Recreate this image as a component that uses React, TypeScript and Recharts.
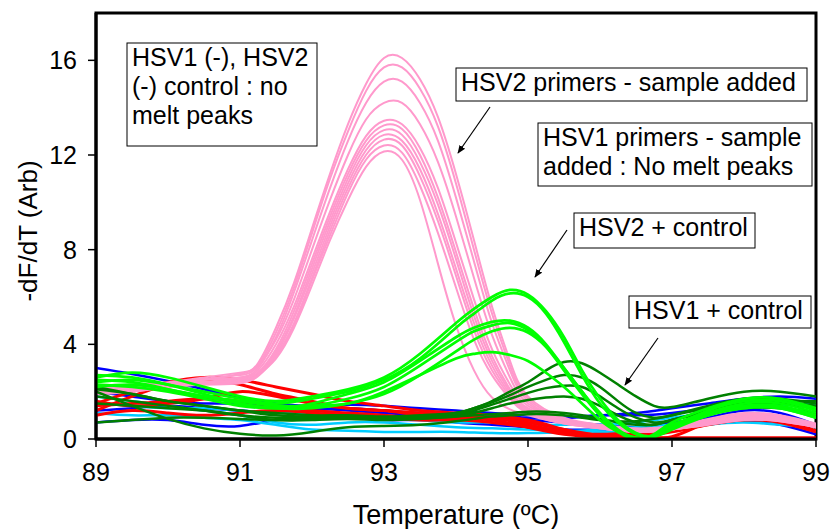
import React from 'react';
import { LineChart, Line, XAxis, YAxis, ReferenceArea } from 'recharts';

// temperature grids (ºC) for each family of curves
const PINK_T = [89, 89.5, 90, 90.5, 91, 91.25, 91.5, 91.75, 92, 92.25, 92.5, 92.75, 93, 93.25, 93.5, 93.75, 94, 94.25, 94.5, 94.75, 95, 95.5, 96, 96.5, 97, 97.5, 98, 98.5, 99];
const GREEN_T = [89, 89.5, 90, 90.5, 91, 91.5, 92, 92.5, 93, 93.5, 94, 94.25, 94.5, 94.75, 95, 95.25, 95.5, 95.75, 96, 96.25, 96.5, 96.75, 97, 97.5, 98, 98.5, 99];
const BASE_T = [89, 89.5, 90, 90.5, 91, 91.5, 92, 92.5, 93, 93.5, 94, 94.5, 95, 95.5, 96, 96.5, 97, 97.5, 98, 98.5, 99];

// HSV2 primers - sample added
const PINK_1 = [2.0, 2.1, 2.3, 2.5, 2.75, 3.2, 4.7, 6.6, 8.9, 11.2, 13.3, 15.0, 16.1, 16.1, 15.2, 13.6, 11.2, 8.4, 5.6, 3.3, 1.8, 0.9, 0.6, 0.45, 0.55, 0.85, 1.1, 1.0, 0.65];
const PINK_2 = [2.1, 2.2, 2.35, 2.55, 2.7, 3.1, 4.5, 6.4, 8.7, 11.0, 13.0, 14.7, 15.7, 15.7, 14.8, 13.2, 10.8, 8.0, 5.3, 3.1, 1.7, 0.85, 0.55, 0.4, 0.5, 0.8, 1.05, 0.95, 0.6];
const PINK_3 = [1.9, 2.0, 2.2, 2.4, 2.6, 3.0, 4.3, 6.2, 8.4, 10.6, 12.6, 14.2, 15.1, 15.1, 14.2, 12.6, 10.2, 7.5, 4.9, 2.9, 1.6, 0.8, 0.5, 0.4, 0.5, 0.8, 1.0, 0.9, 0.6];
const PINK_4 = [2.2, 2.3, 2.4, 2.6, 2.8, 3.1, 4.2, 5.9, 8.0, 10.1, 12.0, 13.5, 14.2, 14.2, 13.3, 11.7, 9.4, 6.8, 4.4, 2.6, 1.5, 0.8, 0.5, 0.35, 0.45, 0.75, 0.95, 0.9, 0.55];
const PINK_5 = [2.0, 2.1, 2.3, 2.5, 2.6, 2.9, 4.0, 5.6, 7.6, 9.6, 11.4, 12.8, 13.45, 13.3, 12.3, 10.6, 8.3, 5.9, 3.8, 2.3, 1.4, 0.8, 0.5, 0.35, 0.45, 0.7, 0.95, 0.9, 0.6];
const PINK_6 = [2.1, 2.2, 2.35, 2.5, 2.55, 2.8, 3.8, 5.4, 7.4, 9.4, 11.2, 12.6, 13.25, 13.1, 12.0, 10.2, 7.9, 5.5, 3.5, 2.1, 1.3, 0.75, 0.5, 0.35, 0.45, 0.7, 0.9, 0.85, 0.55];
const PINK_7 = [1.9, 2.0, 2.2, 2.35, 2.45, 2.75, 3.7, 5.2, 7.2, 9.2, 11.0, 12.4, 13.05, 12.85, 11.7, 9.9, 7.6, 5.2, 3.3, 2.0, 1.25, 0.75, 0.5, 0.35, 0.45, 0.7, 0.9, 0.85, 0.55];
const PINK_8 = [2.0, 2.1, 2.25, 2.4, 2.5, 2.8, 3.6, 5.1, 7.0, 9.0, 10.8, 12.2, 12.85, 12.6, 11.4, 9.5, 7.2, 4.9, 3.1, 1.9, 1.2, 0.7, 0.5, 0.3, 0.4, 0.65, 0.85, 0.8, 0.5];
const PINK_9 = [2.15, 2.25, 2.3, 2.4, 2.45, 2.7, 3.5, 4.9, 6.8, 8.8, 10.6, 12.0, 12.65, 12.4, 11.1, 9.2, 6.9, 4.6, 2.9, 1.8, 1.15, 0.7, 0.45, 0.3, 0.4, 0.65, 0.85, 0.8, 0.5];
const PINK_10 = [1.95, 2.05, 2.2, 2.3, 2.4, 2.65, 3.5, 4.8, 6.7, 8.6, 10.4, 11.8, 12.4, 12.1, 10.7, 8.7, 6.4, 4.2, 2.7, 1.7, 1.1, 0.65, 0.45, 0.3, 0.4, 0.6, 0.8, 0.75, 0.5];
const PINK_11 = [2.0, 2.1, 2.2, 2.3, 2.35, 2.7, 3.4, 4.7, 6.5, 8.4, 10.1, 11.5, 12.15, 11.8, 10.1, 7.4, 4.8, 2.9, 1.75, 1.25, 1.0, 0.65, 0.45, 0.3, 0.4, 0.6, 0.8, 0.75, 0.5];

// HSV2 + control
const LIME_1 = [2.6, 2.8, 2.6, 2.2, 1.8, 1.6, 1.8, 2.1, 2.6, 3.6, 4.9, 5.5, 6.0, 6.3, 6.1, 5.4, 4.3, 2.9, 1.7, 0.8, 0.25, 0.1, 0.4, 1.0, 1.4, 1.4, 1.0];
const LIME_2 = [2.4, 2.5, 2.3, 2.0, 1.7, 1.5, 1.7, 2.0, 2.5, 3.4, 4.7, 5.3, 5.85, 6.15, 6.0, 5.3, 4.1, 2.7, 1.5, 0.7, 0.2, 0.1, 0.5, 1.1, 1.5, 1.5, 1.1];
const LIME_3 = [2.7, 2.6, 2.3, 1.9, 1.5, 1.3, 1.5, 1.9, 2.4, 3.3, 4.3, 4.7, 4.95, 5.0, 4.7, 4.0, 3.0, 2.0, 1.1, 0.4, 0.05, 0.1, 0.5, 1.2, 1.6, 1.6, 1.2];
const LIME_4 = [2.3, 2.2, 2.0, 1.7, 1.4, 1.3, 1.4, 1.7, 2.2, 3.1, 4.1, 4.55, 4.8, 4.9, 4.6, 3.9, 2.9, 1.9, 1.0, 0.35, 0.05, 0.15, 0.6, 1.1, 1.4, 1.3, 0.9];
const LIME_5 = [2.2, 2.3, 2.1, 1.8, 1.5, 1.3, 1.3, 1.5, 1.9, 2.7, 3.7, 4.2, 4.55, 4.7, 4.5, 3.9, 3.0, 2.0, 1.0, 0.3, 0.0, 0.2, 0.7, 1.3, 1.7, 1.7, 1.3];
const LIME_6 = [2.5, 2.4, 2.1, 1.8, 1.6, 1.4, 1.4, 1.5, 2.0, 2.7, 3.4, 3.6, 3.67, 3.55, 3.3, 2.8, 2.2, 1.5, 0.8, 0.3, 0.05, 0.1, 0.5, 1.0, 1.3, 1.3, 0.9];

// HSV1 + control
const DKGREEN_1 = [2.1, 1.9, 1.6, 1.4, 1.2, 1.0, 0.95, 0.95, 0.9, 0.95, 1.1, 1.3, 1.6, 2.0, 2.4, 2.9, 3.25, 3.2, 2.8, 2.3, 1.8, 1.4, 1.35, 1.7, 2.0, 2.0, 1.8];
const DKGREEN_2 = [2.2, 1.9, 1.6, 1.4, 1.2, 1.1, 1.0, 1.0, 0.95, 1.0, 1.1, 1.3, 1.55, 1.85, 2.2, 2.5, 2.7, 2.6, 2.2, 1.6, 1.1, 0.9, 1.0, 1.4, 1.7, 1.7, 1.5];
const DKGREEN_3 = [1.8, 1.6, 1.4, 1.2, 1.0, 0.9, 0.9, 0.9, 0.85, 0.9, 1.0, 1.2, 1.45, 1.7, 1.95, 2.15, 2.25, 2.2, 1.8, 1.3, 0.9, 0.7, 0.8, 1.2, 1.5, 1.5, 1.3];
const DKGREEN_4 = [1.5, 1.4, 1.3, 1.2, 1.0, 0.8, 0.8, 0.85, 0.8, 0.85, 0.95, 1.1, 1.3, 1.5, 1.65, 1.75, 1.8, 1.7, 1.4, 1.0, 0.7, 0.6, 0.8, 1.2, 1.6, 1.6, 1.4];
const DKGREEN_5 = [0.7, 0.8, 0.9, 0.9, 0.85, 0.8, 0.85, 0.9, 0.85, 0.9, 0.95, 1.0, 1.05, 1.1, 1.15, 1.15, 1.1, 1.0, 0.85, 0.7, 0.6, 0.6, 0.8, 1.1, 1.3, 1.3, 1.1];
const DKGREEN_6 = [2.0, 1.4, 0.85, 0.45, 0.22, 0.15, 0.3, 0.5, 0.55, 0.6, 0.75, 0.85, 0.95, 1.0, 1.05, 1.05, 1.0, 0.9, 0.8, 0.75, 0.75, 0.85, 1.0, 1.3, 1.5, 1.6, 1.6];

// negatives / HSV1 primers - no melt peaks
const RED_1 = [1.5, 2.0, 2.4, 2.6, 2.5, 2.2, 1.9, 1.6, 1.4, 1.2, 1.1, 1.0, 0.8, 0.4, 0.1, 0.05, 0.1, 0.7, 0.9, 0.8, 0.35];
const RED_2 = [1.2, 1.8, 2.3, 2.5, 2.3, 1.9, 1.6, 1.3, 1.2, 1.0, 0.95, 0.9, 0.6, 0.3, 0.08, 0.05, 0.05, 0.05, 0.05, 0.05, 0.05];
const RED_3 = [1.4, 1.5, 1.6, 1.7, 1.6, 1.4, 1.2, 1.1, 1.0, 0.9, 0.9, 0.8, 0.5, 0.2, 0.1, 0.2, 0.4, 0.7, 0.9, 0.9, 0.6];
const RED_4 = [1.0, 1.2, 1.1, 1.0, 1.1, 1.2, 1.1, 1.0, 0.9, 0.8, 0.8, 0.7, 0.5, 0.3, 0.2, 0.3, 0.5, 0.8, 1.0, 0.9, 0.5];
const RED_5 = [1.6, 1.4, 1.5, 1.7, 2.0, 1.8, 1.5, 1.3, 1.2, 1.1, 1.0, 0.9, 0.7, 0.4, 0.15, 0.1, 0.3, 0.6, 0.8, 0.7, 0.3];

const BLUE_1 = [3.0, 2.75, 2.45, 2.1, 1.75, 1.5, 1.4, 1.45, 1.4, 1.3, 1.2, 1.1, 1.0, 0.9, 1.0, 1.1, 1.3, 1.5, 1.7, 1.8, 1.7];
const BLUE_2 = [0.7, 0.8, 0.8, 0.6, 0.55, 0.8, 0.9, 0.9, 0.8, 0.8, 0.7, 0.6, 0.5, 0.4, 0.4, 0.5, 0.7, 0.8, 0.8, 0.6, 0.2];
const BLUE_3 = [1.2, 1.3, 1.4, 1.3, 1.2, 1.1, 1.2, 1.3, 1.2, 1.1, 1.0, 1.0, 0.9, 0.9, 1.0, 1.0, 1.1, 1.3, 1.5, 1.5, 1.3];
const BLUE_4 = [2.0, 1.8, 1.6, 1.5, 1.5, 1.4, 1.3, 1.2, 1.1, 1.0, 0.9, 0.9, 0.8, 0.7, 0.6, 0.5, 0.6, 0.9, 1.2, 1.1, 0.6];

const CYAN_1 = [1.8, 1.6, 1.4, 1.2, 1.0, 0.7, 0.6, 0.7, 0.7, 0.6, 0.5, 0.45, 0.4, 0.35, 0.3, 0.3, 0.4, 0.6, 0.7, 0.6, 0.5];
const CYAN_2 = [1.1, 1.0, 1.0, 0.9, 0.8, 0.6, 0.4, 0.35, 0.3, 0.3, 0.3, 0.25, 0.25, 0.3, 0.4, 0.5, 0.6, 0.7, 0.8, 0.7, 0.5];
const CYAN_3 = [1.5, 1.4, 1.3, 1.3, 1.2, 1.1, 1.1, 1.0, 0.9, 0.8, 0.7, 0.7, 0.6, 0.6, 0.6, 0.7, 0.9, 1.1, 1.3, 1.4, 1.5];

const X_TICKS = [89, 91, 93, 95, 97, 99];
const Y_TICKS = [0, 4, 8, 12, 16];

const FONT = '"Liberation Sans", Arial, sans-serif';

type Series = { name: string; color: string; width: number; temps: number[]; values: number[] };

// drawing order: baselines first, then pink, then the two green families
const SERIES: Series[] = [
  ...[BLUE_1, BLUE_2, BLUE_3, BLUE_4].map((v, i) => ({ name: `blue${i}`, color: '#0000FF', width: 2.5, temps: BASE_T, values: v })),
  ...[CYAN_1, CYAN_2, CYAN_3].map((v, i) => ({ name: `cyan${i}`, color: '#00CCFF', width: 2.5, temps: BASE_T, values: v })),
  ...[RED_1, RED_2, RED_3, RED_4, RED_5].map((v, i) => ({ name: `red${i}`, color: '#FF0000', width: 3, temps: BASE_T, values: v })),
  ...[PINK_1, PINK_2, PINK_3, PINK_4, PINK_5, PINK_6, PINK_7, PINK_8, PINK_9, PINK_10, PINK_11].map((v, i) => ({ name: `pink${i}`, color: '#FF99CC', width: 2, temps: PINK_T, values: v })),
  ...[DKGREEN_1, DKGREEN_2, DKGREEN_3, DKGREEN_4, DKGREEN_5, DKGREEN_6].map((v, i) => ({ name: `dk${i}`, color: '#008000', width: 2.5, temps: GREEN_T, values: v })),
  ...[LIME_1, LIME_2, LIME_3, LIME_4, LIME_5, LIME_6].map((v, i) => ({ name: `lime${i}`, color: '#00FF00', width: 2.75, temps: GREEN_T, values: v })),
];

const toPoints = (temps: number[], values: number[]) => temps.map((t, i) => ({ t, v: values[i] }));

const Callout: React.FC<{ x: number; y: number; w: number; h: number; lines: string[]; lineGap?: number }> = ({ x, y, w, h, lines, lineGap = 29 }) => (
  <g>
    <rect x={x} y={y} width={w} height={h} fill="#fff" stroke="#000" strokeWidth={1} />
    {lines.map((l, i) => (
      <text key={i} x={x + 5} y={y + 23 + i * lineGap} fontSize={25} fontFamily={FONT} fill="#000">
        {l}
      </text>
    ))}
  </g>
);

const Arrow: React.FC<{ x1: number; y1: number; x2: number; y2: number }> = (p) => (
  <line {...p} stroke="#000" strokeWidth={1.2} markerEnd="url(#head)" />
);

const App: React.FC = () => {
  return (
    <div style={{ position: 'absolute', left: 0, top: 0, width: 830, height: 529, background: '#fff' }}>
      <LineChart width={830} height={529} margin={{ top: 13, right: 14, left: 0, bottom: 0 }}>
        <XAxis
          dataKey="t"
          type="number"
          domain={[89, 99]}
          ticks={X_TICKS}
          height={90}
          tickSize={8}
          tickMargin={16}
          axisLine={{ stroke: '#000', strokeWidth: 3 }}
          tickLine={{ stroke: '#000', strokeWidth: 1.5 }}
          tick={{ fill: '#000', fontSize: 25, fontFamily: FONT }}
          allowDataOverflow
        />
        <YAxis
          type="number"
          domain={[0, 18]}
          ticks={Y_TICKS}
          width={96}
          tickSize={8}
          tickMargin={11}
          axisLine={{ stroke: '#000', strokeWidth: 3 }}
          tickLine={{ stroke: '#000', strokeWidth: 1.5 }}
          tick={{ fill: '#000', fontSize: 25, fontFamily: FONT }}
          allowDataOverflow
        />
        {SERIES.map((s) => (
          <Line
            key={s.name}
            data={toPoints(s.temps, s.values)}
            dataKey="v"
            type="natural"
            stroke={s.color}
            strokeWidth={s.width}
            dot={false}
            activeDot={false}
            isAnimationActive={false}
          />
        ))}
        <ReferenceArea x1={89} x2={99} y1={0} y2={18} fill="none" stroke="#000" strokeWidth={3} />
      </LineChart>

      <svg width={830} height={529} style={{ position: 'absolute', left: 0, top: 0, pointerEvents: 'none' }}>
        <defs>
          <marker id="head" viewBox="0 0 10 10" refX="9" refY="5" markerWidth="7" markerHeight="7" orient="auto">
            <path d="M0,1 L10,5 L0,9 z" fill="#000" />
          </marker>
        </defs>
        <text x={456} y={524} textAnchor="middle" fontSize={27} fontFamily={FONT} fill="#000">
          Temperature (ºC)
        </text>
        <text x={37} y={231} textAnchor="middle" fontSize={26} fontFamily={FONT} fill="#000" transform="rotate(-90 37 231)">
          -dF/dT (Arb)
        </text>

        <Callout x={127} y={43} w={190} h={103} lines={['HSV1 (-), HSV2', '(-) control : no', 'melt peaks']} />
        <Callout x={456} y={68} w={351} h={33} lines={['HSV2 primers - sample added']} />
        <Callout x={538} y={123} w={274} h={63} lines={['HSV1 primers - sample', 'added : No melt peaks']} />
        <Callout x={574} y={213} w={181} h={35} lines={['HSV2 + control']} />
        <Callout x={629} y={296} w={182} h={32} lines={['HSV1 + control']} />

        <Arrow x1={490} y1={107} x2={458} y2={153} />
        <Arrow x1={567} y1={230} x2={535} y2={277} />
        <Arrow x1={658} y1={338} x2={625} y2={385} />
      </svg>
    </div>
  );
};

export default App;
